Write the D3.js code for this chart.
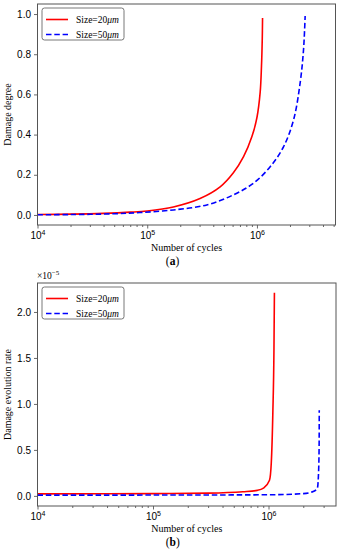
<!DOCTYPE html>
<html>
<head>
<meta charset="utf-8">
<script src="https://cdn.jsdelivr.net/npm/d3@7"></script>
<style>
  body { margin: 0; background: #fff; }
  svg { font-family: "Liberation Serif", "DejaVu Serif", serif; }
</style>
</head>
<body>
<svg id="fig" width="339" height="550"></svg>
<script>
// panel (a) damage degree
var cyclesA20 = [1e4, 2e4, 4e4, 7e4, 1e5, 1.73e5, 3.03e5, 4.62e5, 6.1e5, 7.55e5, 9.0e5, 1.0e6, 1.07e6, 1.1e6, 1.118e6, 1.125e6];
var damageA20 = [0.002, 0.004, 0.008, 0.014, 0.02, 0.04, 0.082, 0.14, 0.21, 0.29, 0.39, 0.485, 0.61, 0.74, 0.875, 0.98];
var cyclesA50 = [1e4, 2e4, 5e4, 8.6e4, 1.73e5, 3.49e5, 6.1e5, 9.3e5, 1.32e6, 1.75e6, 2.16e6, 2.48e6, 2.66e6, 2.75e6];
var damageA50 = [0.001, 0.002, 0.006, 0.012, 0.025, 0.05, 0.1, 0.158, 0.24, 0.34, 0.475, 0.66, 0.825, 0.99];

// panel (b) damage evolution rate, in units of 1e-5
var cyclesB20 = [1e4, 1e5, 3e5, 6e5, 8e5, 9.04e5, 1.02e6, 1.057e6, 1.09e6, 1.115e6, 1.125e6];
var rateB20 = [0.022, 0.025, 0.03, 0.045, 0.06, 0.084, 0.17, 0.36, 0.9, 1.6, 2.21];
var cyclesB50 = [1e4, 1e5, 1e6, 2e6, 2.44e6, 2.65e6, 2.72e6, 2.745e6, 2.75e6];
var rateB50 = [0.008, 0.009, 0.012, 0.025, 0.047, 0.084, 0.3, 0.6, 0.93];

var seriesNames = ["Size=20", "Size=50"];
var seriesColors = ["#ff0000", "#0000ff"];
var yTicksA = [0, 0.2, 0.4, 0.6, 0.8, 1.0];
var yTicksB = [0, 0.5, 1.0, 1.5, 2.0];
var majorX = [1e4, 1e5, 1e6];

var svg = d3.select("#fig");

function panel(opt) {
  var x = d3.scaleLog().domain(opt.xdom).range([opt.left, opt.right]);
  var y = d3.scaleLinear().domain(opt.ydom).range([opt.bottom, opt.top]);
  var g = svg.append("g");

  // minor x ticks
  var minors = [];
  for (var d = 4; d <= 6; d++) {
    for (var m = 2; m <= 9; m++) {
      var v = m * Math.pow(10, d);
      if (v < opt.xdom[1]) minors.push(v);
    }
  }
  var xAxis = d3.axisBottom(x).tickValues(majorX).tickSize(3.5).tickPadding(2)
    .tickFormat(function(d) { return ""; });
  var gx = g.append("g").attr("transform", "translate(0," + opt.bottom + ")").call(xAxis);
  g.append("g").attr("transform", "translate(0," + opt.bottom + ")")
    .call(d3.axisBottom(x).tickValues(minors).tickSize(2).tickFormat(""))
    .select(".domain").remove();
  gx.selectAll(".tick").each(function(d) {
    var t = d3.select(this).append("text").attr("y", 14).attr("fill", "#000")
      .attr("font-size", 10).attr("text-anchor", "middle");
    t.append("tspan").text("10");
    t.append("tspan").attr("dy", -4).attr("font-size", 7).text(Math.round(Math.log10(d)));
  });

  var yAxis = d3.axisLeft(y).tickValues(opt.yticks).tickSize(3.5).tickPadding(3)
    .tickFormat(d3.format(".1f"));
  var gy = g.append("g").attr("transform", "translate(" + opt.left + ",0)").call(yAxis);
  gy.selectAll("text").attr("font-size", 10).attr("fill", "#000");
  g.selectAll(".domain").remove();
  g.selectAll(".tick line").attr("stroke", "#444").attr("stroke-width", 0.8);

  // lines
  var clipId = "clip" + opt.id;
  svg.append("clipPath").attr("id", clipId).append("rect")
    .attr("x", opt.left).attr("y", opt.top)
    .attr("width", opt.right - opt.left).attr("height", opt.bottom - opt.top);
  var line = d3.line().x(function(d) { return x(d[0]); }).y(function(d) { return y(d[1]); })
    .curve(opt.curve);
  opt.series.forEach(function(s, i) {
    g.append("path").datum(d3.zip(s.n, s.v)).attr("d", line)
      .attr("clip-path", "url(#" + clipId + ")")
      .attr("fill", "none").attr("stroke", seriesColors[i]).attr("stroke-width", 1.6)
      .attr("stroke-dasharray", i == 1 ? "5.5,2.8" : null);
  });

  // frame
  g.append("rect").attr("x", opt.left).attr("y", opt.top)
    .attr("width", opt.right - opt.left).attr("height", opt.bottom - opt.top)
    .attr("fill", "none").attr("stroke", "#555").attr("stroke-width", 1);

  // legend
  var lg = g.append("g").attr("transform", "translate(" + (opt.left + 4.5) + "," + (opt.top + 4) + ")");
  lg.append("rect").attr("width", 82).attr("height", 32).attr("rx", 2.5)
    .attr("fill", "#fff").attr("stroke", "#555").attr("stroke-width", 0.8);
  seriesNames.forEach(function(nm, i) {
    var yy = 11.5 + i * 15;
    lg.append("line").attr("x1", 4).attr("x2", 26).attr("y1", yy).attr("y2", yy)
      .attr("stroke", seriesColors[i]).attr("stroke-width", 1.6)
      .attr("stroke-dasharray", i == 1 ? "5.5,2.8" : null);
    var t = lg.append("text").attr("x", 34).attr("y", yy + 3.3).attr("font-size", 9.5);
    t.append("tspan").text(nm);
    t.append("tspan").attr("font-style", "italic").text("\u03bcm");
  });

  // labels
  g.append("text").attr("transform", "translate(11," + ((opt.top + opt.bottom) / 2) + ") rotate(-90)")
    .attr("text-anchor", "middle").attr("font-size", 10).text(opt.ylabel);
  g.append("text").attr("x", (opt.left + opt.right) / 2).attr("y", opt.bottom + 26)
    .attr("text-anchor", "middle").attr("font-size", 10).text("Number of cycles");
  var cap = g.append("text").attr("x", (opt.left + opt.right) / 2 - 14).attr("y", opt.bottom + 40)
    .attr("text-anchor", "middle").attr("font-size", 11.5);
  cap.append("tspan").text("(");
  cap.append("tspan").attr("font-weight", "bold").text(opt.tag);
  cap.append("tspan").text(")");
  return g;
}

panel({
  id: "a", left: 37.5, right: 335.5, top: 4, bottom: 225,
  xdom: [1e4, 5.2e6], ydom: [-0.05, 1.05], yticks: yTicksA,
  ylabel: "Damage degree", tag: "a", curve: d3.curveCatmullRom.alpha(0.5),
  series: [{ n: cyclesA20, v: damageA20 }, { n: cyclesA50, v: damageA50 }]
});

var gb = panel({
  id: "b", left: 37.5, right: 336, top: 283, bottom: 506,
  xdom: [1e4, 3.84e6], ydom: [-0.11, 2.315], yticks: yTicksB,
  ylabel: "Damage evolution rate", tag: "b", curve: d3.curveMonotoneX,
  series: [{ n: cyclesB20, v: rateB20 }, { n: cyclesB50, v: rateB50 }]
});

var off = gb.append("text").attr("x", 37).attr("y", 279).attr("font-size", 9.5);
off.append("tspan").text("\u00d710");
off.append("tspan").attr("dy", -4).attr("font-size", 7).text("\u22125");
</script>
</body>
</html>
